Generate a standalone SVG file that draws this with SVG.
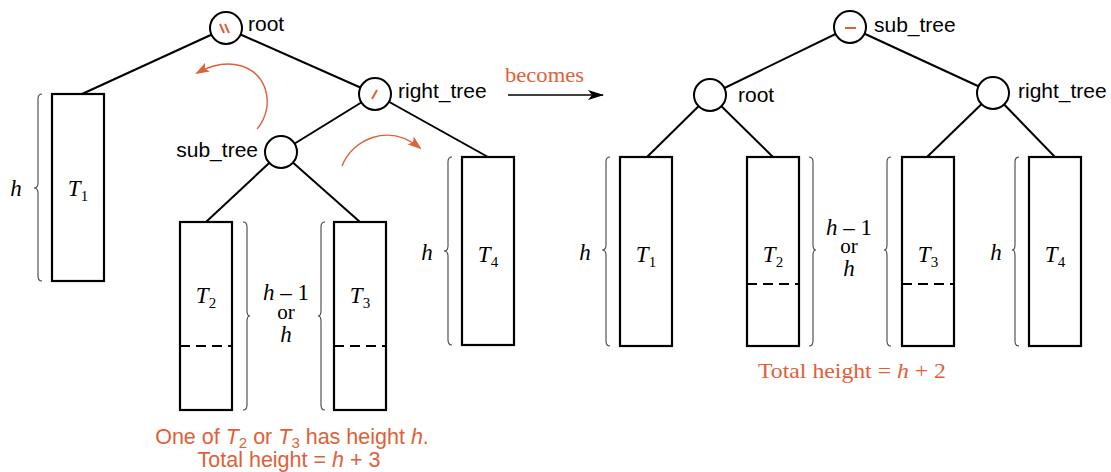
<svg xmlns="http://www.w3.org/2000/svg" width="1111" height="472" viewBox="0 0 1111 472">
<style>
.edge{stroke:#000;stroke-width:2;fill:none}
.node{fill:#fff;stroke:#000;stroke-width:2}
.tree{fill:#fff;stroke:#000;stroke-width:2.2}
.dash{stroke:#000;stroke-width:2.2;stroke-dasharray:10,6}
.brace{fill:none;stroke:#444;stroke-width:1.1}
.lbl{font-family:"Liberation Sans",Arial,sans-serif;font-size:21px;fill:#000}
.math{font-family:"Liberation Serif","Times New Roman",serif;font-size:23px;fill:#000}
.it{font-style:italic}
.sub{font-size:15px;font-style:normal}
.red{fill:#e0603a}
.sym{stroke:#e0603a;stroke-width:2;fill:none}
.rarrow{stroke:#e0603a;stroke-width:1.4;fill:none}
</style>
<defs>
<marker id="redhead" markerWidth="14" markerHeight="10" refX="12" refY="5" orient="auto" markerUnits="userSpaceOnUse">
<path d="M0,0 L14,5 L0,10 L3,5 Z" fill="#e0603a"/>
</marker>
<marker id="blackhead" markerWidth="16" markerHeight="10" refX="15" refY="5" orient="auto" markerUnits="userSpaceOnUse">
<path d="M0,0 L16,5 L0,10 L4,5 Z" fill="#000"/>
</marker>
</defs>

<g id="connectors">
<!-- left tree -->
<line class="edge" x1="226" y1="28" x2="82" y2="94"/>
<line class="edge" x1="226" y1="28" x2="375" y2="94"/>
<line class="edge" x1="375" y1="94" x2="281" y2="152"/>
<line class="edge" x1="375" y1="94" x2="488" y2="157"/>
<line class="edge" x1="281" y1="152" x2="206" y2="222"/>
<line class="edge" x1="281" y1="152" x2="360" y2="222"/>
<!-- right tree -->
<line class="edge" x1="850" y1="27" x2="710" y2="95"/>
<line class="edge" x1="850" y1="27" x2="993" y2="93"/>
<line class="edge" x1="710" y1="95" x2="647" y2="157"/>
<line class="edge" x1="710" y1="95" x2="773" y2="157"/>
<line class="edge" x1="993" y1="93" x2="927" y2="157"/>
<line class="edge" x1="993" y1="93" x2="1055" y2="157"/>
<!-- rotation arrows -->
<path class="rarrow" d="M257,129 C278,104 266,64 228,64 C216,64 206,68 197,73" marker-end="url(#redhead)"/>
<path class="rarrow" d="M342,166 C352,140 388,122 420,148" marker-end="url(#redhead)"/>
<!-- becomes arrow -->
<line x1="508" y1="95" x2="603" y2="95" stroke="#000" stroke-width="1.3" marker-end="url(#blackhead)"/>
<text x="505" y="82" class="math red" style="font-size:22px" textLength="79" lengthAdjust="spacingAndGlyphs">becomes</text>
</g>

<!-- Left tree nodes -->
<g id="L_root">
<circle class="node" cx="226" cy="28" r="16"/>
<line class="sym" x1="220" y1="24" x2="224" y2="33"/>
<line class="sym" x1="225" y1="24" x2="229" y2="33"/>
<text class="lbl" x="248" y="31">root</text>
</g>
<g id="L_right_tree">
<circle class="node" cx="375" cy="94" r="16"/>
<line class="sym" x1="372" y1="99" x2="377" y2="90"/>
<text class="lbl" x="398" y="98">right_tree</text>
</g>
<g id="L_sub_tree">
<circle class="node" cx="281" cy="152" r="16"/>
<text class="lbl" x="258" y="157" text-anchor="end">sub_tree</text>
</g>
<g id="L_T1">
<rect class="tree" x="52" y="94" width="52" height="187"/>
<text class="math it" x="78" y="196" text-anchor="middle">T<tspan class="sub" dy="5">1</tspan></text>
<path class="brace" d="M42,94 Q38,94 38,99 L38,183 Q38,188 34,188 Q38,188 38,193 L38,276 Q38,281 42,281"/>
<text class="math it" x="16" y="196" text-anchor="middle">h</text>
</g>
<g id="L_T2">
<rect class="tree" x="180" y="222" width="52" height="188"/>
<line class="dash" x1="180" y1="346" x2="232" y2="346"/>
<text class="math it" x="206" y="303" text-anchor="middle">T<tspan class="sub" dy="5">2</tspan></text>
<path class="brace" d="M243,222 Q247,222 247,227 L247,311 Q247,316 250,316 Q247,316 247,321 L247,405 Q247,410 243,410"/>
</g>
<g id="L_T3">
<rect class="tree" x="334" y="222" width="52" height="188"/>
<line class="dash" x1="334" y1="346" x2="386" y2="346"/>
<text class="math it" x="360" y="303" text-anchor="middle">T<tspan class="sub" dy="5">3</tspan></text>
<path class="brace" d="M325,222 Q321,222 321,227 L321,311 Q321,316 318,316 Q321,316 321,321 L321,405 Q321,410 325,410"/>
</g>
<g id="L_height23">
<text class="math" x="286" y="300" text-anchor="middle"><tspan class="it">h</tspan> – 1</text>
<text class="math" x="286" y="319" text-anchor="middle" style="font-size:21px">or</text>
<text class="math it" x="286" y="342" text-anchor="middle">h</text>
</g>
<g id="L_T4">
<rect class="tree" x="462" y="157" width="52" height="188"/>
<text class="math it" x="488" y="262" text-anchor="middle">T<tspan class="sub" dy="5">4</tspan></text>
<path class="brace" d="M452,157 Q448,157 448,162 L448,246 Q448,251 444,251 Q448,251 448,256 L448,340 Q448,345 452,345"/>
<text class="math it" x="427" y="260" text-anchor="middle">h</text>
</g>
<g id="L_caption">
<text class="lbl red" x="292" y="444" text-anchor="middle" style="font-size:21.5px">One of <tspan font-style="italic">T</tspan><tspan font-size="15" dy="4">2</tspan><tspan dy="-4"> or </tspan><tspan font-style="italic">T</tspan><tspan font-size="15" dy="4">3</tspan><tspan dy="-4"> has height </tspan><tspan font-style="italic">h</tspan>.</text>
<text class="lbl red" x="289" y="467" text-anchor="middle" style="font-size:21.5px">Total height = <tspan font-style="italic">h</tspan> + 3</text>
</g>

<!-- Right tree nodes -->
<g id="R_sub_tree">
<circle class="node" cx="850" cy="27" r="16"/>
<line class="sym" x1="845" y1="28" x2="856" y2="28"/>
<text class="lbl" x="874" y="32">sub_tree</text>
</g>
<g id="R_root">
<circle class="node" cx="710" cy="95" r="16"/>
<text class="lbl" x="738" y="102">root</text>
</g>
<g id="R_right_tree">
<circle class="node" cx="993" cy="93" r="16"/>
<text class="lbl" x="1018" y="98">right_tree</text>
</g>
<g id="R_T1">
<rect class="tree" x="620" y="157" width="52" height="189"/>
<text class="math it" x="646" y="262" text-anchor="middle">T<tspan class="sub" dy="5">1</tspan></text>
<path class="brace" d="M610,157 Q606,157 606,162 L606,245 Q606,250 602,250 Q606,250 606,255 L606,341 Q606,346 610,346"/>
<text class="math it" x="585" y="260" text-anchor="middle">h</text>
</g>
<g id="R_T2">
<rect class="tree" x="747" y="157" width="52" height="189"/>
<line class="dash" x1="747" y1="284" x2="799" y2="284"/>
<text class="math it" x="773" y="262" text-anchor="middle">T<tspan class="sub" dy="5">2</tspan></text>
<path class="brace" d="M809,157 Q813,157 813,162 L813,245 Q813,250 816,250 Q813,250 813,255 L813,341 Q813,346 809,346"/>
</g>
<g id="R_height23">
<text class="math" x="849" y="235" text-anchor="middle"><tspan class="it">h</tspan> – 1</text>
<text class="math" x="849" y="253" text-anchor="middle" style="font-size:21px">or</text>
<text class="math it" x="849" y="276" text-anchor="middle">h</text>
</g>
<g id="R_T3">
<rect class="tree" x="902" y="157" width="52" height="189"/>
<line class="dash" x1="902" y1="284" x2="954" y2="284"/>
<text class="math it" x="928" y="262" text-anchor="middle">T<tspan class="sub" dy="5">3</tspan></text>
<path class="brace" d="M891,157 Q887,157 887,162 L887,245 Q887,250 884,250 Q887,250 887,255 L887,341 Q887,346 891,346"/>
</g>
<g id="R_T4">
<rect class="tree" x="1029" y="157" width="52" height="189"/>
<text class="math it" x="1055" y="262" text-anchor="middle">T<tspan class="sub" dy="5">4</tspan></text>
<path class="brace" d="M1019,157 Q1015,157 1015,162 L1015,245 Q1015,250 1012,250 Q1015,250 1015,255 L1015,341 Q1015,346 1019,346"/>
<text class="math it" x="996" y="260" text-anchor="middle">h</text>
</g>
<g id="R_caption">
<text class="math red" x="758" y="378" style="font-size:22px" textLength="188" lengthAdjust="spacingAndGlyphs">Total height = <tspan font-style="italic">h</tspan> + 2</text>
</g>
</svg>
